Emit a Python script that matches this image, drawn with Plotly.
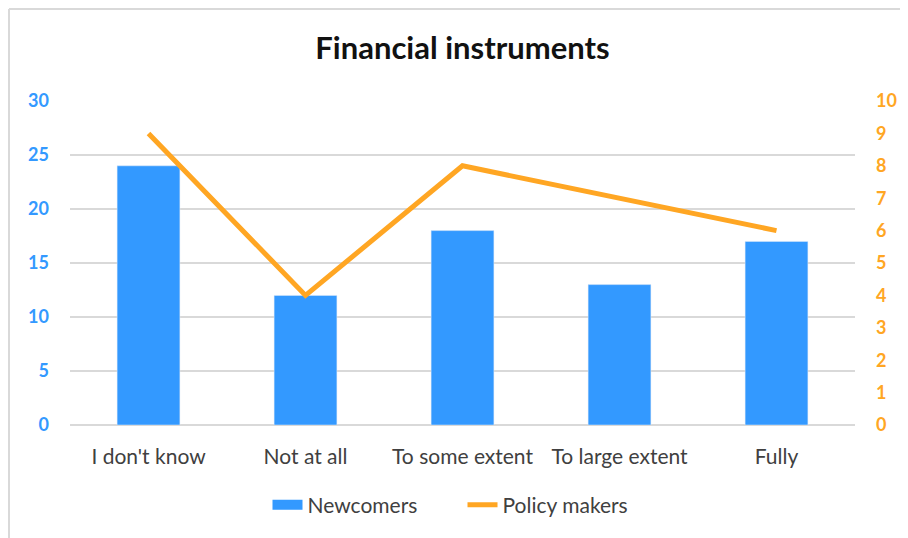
import plotly.graph_objects as go

categories = ["I don't know", "Not at all", "To some extent", "To large extent", "Fully"]
newcomers = [24, 12, 18, 13, 17]
policy_makers = [9, 4, 8, 7, 6]
left_ticks = [0, 5, 10, 15, 20, 25, 30]
right_ticks = list(range(0, 11))

BLUE = "#3399FF"
ORANGE = "#FFA623"
FONT = "Lato, 'Open Sans', sans-serif"

fig = go.Figure()
fig.add_trace(go.Bar(x=categories, y=newcomers, name="Newcomers", marker_color=BLUE,
                     width=0.4, yaxis="y", showlegend=False))
fig.add_trace(go.Scatter(x=[None], y=[None], name="Newcomers", mode="lines",
                         line=dict(color=BLUE, width=10), yaxis="y", showlegend=True))
fig.add_trace(go.Scatter(x=categories, y=policy_makers, name="Policy makers", mode="lines",
                         line=dict(color=ORANGE, width=5), yaxis="y2"))

# page body has an 8px margin, so figure coordinates = screen - 8
OFF = 8
W, H = 900, 530
L, T = 70 - OFF, 101 - OFF
R = W - (855 - OFF)
B = H - (425 - OFF)
pw, ph = W - L - R, H - T - B

def px(x):
    return (x - OFF - L) / pw

def py(y):
    return (H - B - (y - OFF)) / ph

fig.update_layout(
    width=W, height=H,
    margin=dict(l=L, r=R, t=T, b=B, autoexpand=False),
    paper_bgcolor="white", plot_bgcolor="white",
    font=dict(family=FONT),
    title=dict(text="<b>Financial instruments</b>", x=0.5, xanchor="center", xref="paper",
               y=1 - (48 - OFF) / H, yanchor="middle",
               font=dict(size=31, color="#111111", family=FONT)),
    xaxis=dict(showgrid=False, showline=False, ticks="", automargin=False,
               ticklabelstandoff=17,
               tickfont=dict(size=21, color="#404040", family=FONT)),
    yaxis=dict(range=[0, 30], tickvals=left_ticks, showgrid=True, gridcolor="#D9D9D9",
               gridwidth=2, zeroline=False, showline=False, ticklabelstandoff=20,
               automargin=False,
               tickfont=dict(size=18, color=BLUE, family=FONT, weight="bold"), ticks=""),
    yaxis2=dict(range=[0, 10], tickvals=right_ticks, overlaying="y", side="right",
                showgrid=False, zeroline=False, showline=False, ticks="", ticklabelstandoff=20,
                automargin=False,
                tickfont=dict(size=18, color=ORANGE, family=FONT, weight="bold")),
    legend=dict(orientation="h", x=0.5, xanchor="center", y=py(505), yanchor="middle",
                font=dict(size=21, color="#404040", family=FONT), traceorder="normal",
                entrywidth=150),
    showlegend=True,
    shapes=[
        dict(type="line", xref="paper", yref="paper", x0=px(9), x1=px(912), y0=py(9), y1=py(9),
             line=dict(color="#D9D9D9", width=2)),
        dict(type="line", xref="paper", yref="paper", x0=px(9), x1=px(9), y0=py(9), y1=py(545),
             line=dict(color="#D9D9D9", width=2)),
        dict(type="line", xref="paper", yref="paper", x0=0, x1=1, y0=0, y1=0,
             line=dict(color="#D9D9D9", width=2), layer="below"),
    ],
)

fig.write_html("out.html")
